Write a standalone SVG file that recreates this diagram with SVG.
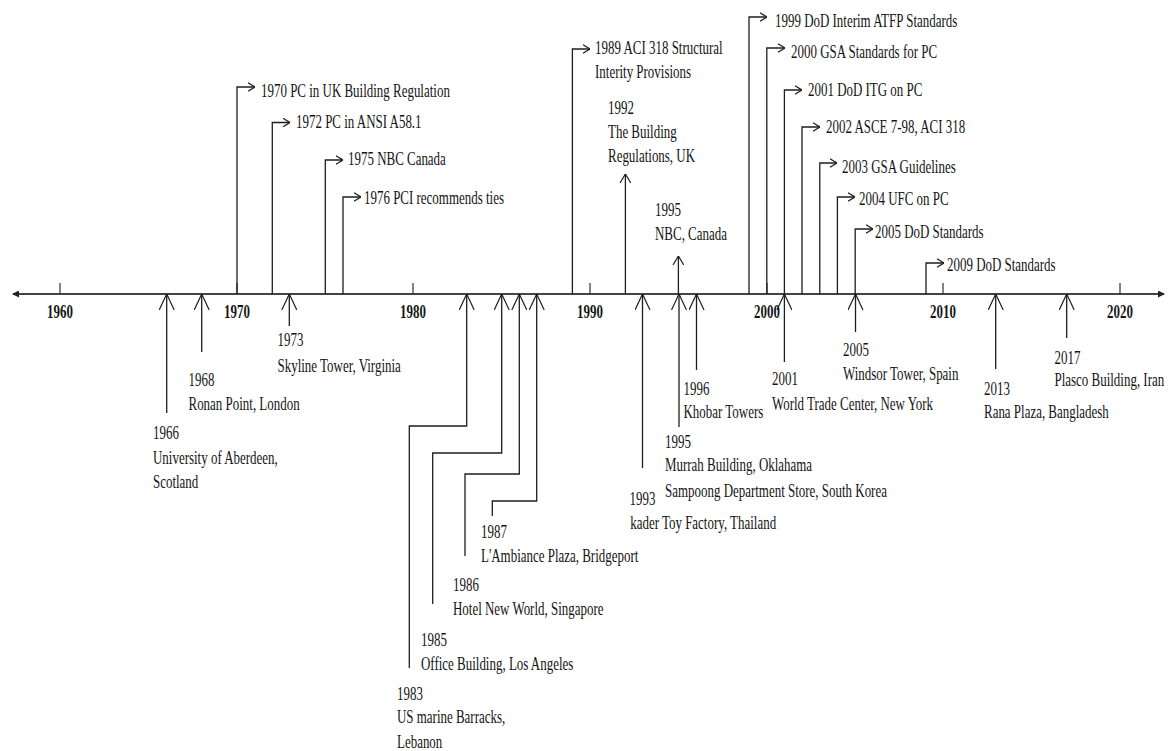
<svg xmlns="http://www.w3.org/2000/svg" width="1169" height="751" viewBox="0 0 1169 751">
<style>
text{font-family:"Liberation Serif","Times New Roman",serif;font-size:18px;fill:#141414}
.yr{font-weight:bold;text-anchor:middle}
.ln{fill:none;stroke:#1e1e1e;stroke-width:1.3}
.ax{fill:none;stroke:#444;stroke-width:2}
.tk{fill:none;stroke:#333;stroke-width:1.2}
.up{marker-end:url(#chev)}
.rt{marker-end:url(#openR)}
.sm{marker-end:url(#chevS)}
</style>
<defs>
<marker id="chev" viewBox="0 0 16 16" refX="16" refY="8" markerWidth="16" markerHeight="16" markerUnits="userSpaceOnUse" orient="auto"><path d="M0,0.5 L16,8 L0,15.5" fill="none" stroke="#1e1e1e" stroke-width="1.2"/></marker>
<marker id="chevS" viewBox="0 0 9 12" refX="9" refY="6" markerWidth="9" markerHeight="12" markerUnits="userSpaceOnUse" orient="auto"><path d="M0,0.6 L9,6 L0,11.4" fill="none" stroke="#1e1e1e" stroke-width="1.2"/></marker>
<marker id="openR" viewBox="0 0 7 10" refX="7" refY="5" markerWidth="7" markerHeight="10" markerUnits="userSpaceOnUse" orient="auto"><path d="M0,0.8 L7,5 L0,9.2" fill="none" stroke="#1e1e1e" stroke-width="1.2"/></marker>
<marker id="axh" viewBox="0 0 7 7" refX="6" refY="3.5" markerWidth="7" markerHeight="7" markerUnits="userSpaceOnUse" orient="auto-start-reverse"><path d="M0,0 L7,3.5 L0,7 z" fill="#222"/></marker>
</defs>
<rect width="1169" height="751" fill="#fff"/>
<g id="axis">
<path class="ax" d="M13,294 H1164" marker-start="url(#axh)" marker-end="url(#axh)"/>
<path class="tk" d="M60,283V294M237,283V294M413,283V294M590,283V294M767,283V294M943,283V294M1120,283V294"/>
<text class="yr" transform="matrix(.72 0 0 1 60 318)">1960</text>
<text class="yr" transform="matrix(.72 0 0 1 237 318)">1970</text>
<text class="yr" transform="matrix(.72 0 0 1 413 318)">1980</text>
<text class="yr" transform="matrix(.72 0 0 1 590 318)">1990</text>
<text class="yr" transform="matrix(.72 0 0 1 767 318)">2000</text>
<text class="yr" transform="matrix(.72 0 0 1 943 318)">2010</text>
<text class="yr" transform="matrix(.72 0 0 1 1120 318)">2020</text>
</g>
<g id="connectors">
<path class="ln rt" d="M237,294V87H255"/>
<path class="ln rt" d="M272.3,294V122.5H290"/>
<path class="ln rt" d="M325.3,294V160H343"/>
<path class="ln rt" d="M343,294V197H361"/>
<path class="ln rt" d="M572.4,294V49H590"/>
<path class="ln rt" d="M749,294V17H767"/>
<path class="ln rt" d="M766.8,294V48H785"/>
<path class="ln rt" d="M784.4,294V90H802"/>
<path class="ln rt" d="M802,294V127H820"/>
<path class="ln rt" d="M819.8,294V163H837"/>
<path class="ln rt" d="M837.4,294V197H855"/>
<path class="ln rt" d="M855.2,294V229H873"/>
<path class="ln rt" d="M926,294V263H944"/>
<path class="ln sm" d="M625.4,294V174"/>
<path class="ln sm" d="M678.4,294V256"/>
<path class="ln up" d="M166.7,413V294"/>
<path class="ln up" d="M201.7,352V294"/>
<path class="ln up" d="M289.3,326V294"/>
<path class="ln up" d="M409.3,668V426H466.7V294"/>
<path class="ln up" d="M432.7,604V453H501.7V294"/>
<path class="ln up" d="M465,556V474H519.3V294"/>
<path class="ln up" d="M492.3,516V501H536.7V294"/>
<path class="ln up" d="M642.5,468V294"/>
<path class="ln up" d="M679,427V294"/>
<path class="ln up" d="M696.5,370V294"/>
<path class="ln up" d="M784.4,362V294"/>
<path class="ln up" d="M855.5,332V294"/>
<path class="ln up" d="M995.7,369V294"/>
<path class="ln up" d="M1066.7,338V294"/>
</g>
<g id="n1970"><text transform="matrix(.72 0 0 1 261 97)">1970 PC in UK Building Regulation</text></g>
<g id="n1972"><text transform="matrix(.72 0 0 1 296 128)">1972 PC in ANSI A58.1</text></g>
<g id="n1975"><text transform="matrix(.72 0 0 1 348 165)">1975 NBC Canada</text></g>
<g id="n1976"><text transform="matrix(.72 0 0 1 364 204)">1976 PCI recommends ties</text></g>
<g id="n1989"><text transform="matrix(.72 0 0 1 595 54)"><tspan x="0" y="0">1989 ACI 318 Structural</tspan><tspan x="0" y="24">Interity Provisions</tspan></text></g>
<g id="n1992"><text transform="matrix(.72 0 0 1 608 113.5)"><tspan x="0" y="0">1992</tspan><tspan x="0" y="24.5">The Building</tspan><tspan x="0" y="49">Regulations, UK</tspan></text></g>
<g id="n1995t"><text transform="matrix(.72 0 0 1 655 216)"><tspan x="0" y="0">1995</tspan><tspan x="0" y="24">NBC, Canada</tspan></text></g>
<g id="n1999"><text transform="matrix(.72 0 0 1 775 27)">1999 DoD Interim ATFP Standards</text></g>
<g id="n2000"><text transform="matrix(.72 0 0 1 791 57.5)">2000 GSA Standards for PC</text></g>
<g id="n2001t"><text transform="matrix(.72 0 0 1 808 95.5)">2001 DoD ITG on PC</text></g>
<g id="n2002"><text transform="matrix(.72 0 0 1 826 133)">2002 ASCE 7-98, ACI 318</text></g>
<g id="n2003"><text transform="matrix(.72 0 0 1 842 172.5)">2003 GSA Guidelines</text></g>
<g id="n2004"><text transform="matrix(.72 0 0 1 859 204.5)">2004 UFC on PC</text></g>
<g id="n2005t"><text transform="matrix(.72 0 0 1 875 237.5)">2005 DoD Standards</text></g>
<g id="n2009"><text transform="matrix(.72 0 0 1 947 271)">2009 DoD Standards</text></g>
<g id="n1966"><text transform="matrix(.72 0 0 1 153 439)"><tspan x="0" y="0">1966</tspan><tspan x="0" y="25">University of Aberdeen,</tspan><tspan x="0" y="49">Scotland</tspan></text></g>
<g id="n1968"><text transform="matrix(.72 0 0 1 188.5 385.5)"><tspan x="0" y="0">1968</tspan><tspan x="0" y="24.5">Ronan Point, London</tspan></text></g>
<g id="n1973"><text transform="matrix(.72 0 0 1 277.5 346)"><tspan x="0" y="0">1973</tspan><tspan x="0" y="26">Skyline Tower, Virginia</tspan></text></g>
<g id="n1983"><text transform="matrix(.72 0 0 1 397 699.5)"><tspan x="0" y="0">1983</tspan><tspan x="0" y="23.5">US marine Barracks,</tspan><tspan x="0" y="48.5">Lebanon</tspan></text></g>
<g id="n1985"><text transform="matrix(.72 0 0 1 421 646)"><tspan x="0" y="0">1985</tspan><tspan x="0" y="24">Office Building, Los Angeles</tspan></text></g>
<g id="n1986"><text transform="matrix(.72 0 0 1 453 591)"><tspan x="0" y="0">1986</tspan><tspan x="0" y="24">Hotel New World, Singapore</tspan></text></g>
<g id="n1987"><text transform="matrix(.72 0 0 1 481 538)"><tspan x="0" y="0">1987</tspan><tspan x="0" y="24">L'Ambiance Plaza, Bridgeport</tspan></text></g>
<g id="n1993"><text transform="matrix(.72 0 0 1 629.5 504.5)"><tspan x="0" y="0">1993</tspan><tspan x="1" y="24.5">kader Toy Factory, Thailand</tspan></text></g>
<g id="n1995b"><text transform="matrix(.72 0 0 1 665 448)"><tspan x="0" y="0">1995</tspan><tspan x="0" y="23.5">Murrah Building, Oklahama</tspan><tspan x="0" y="49">Sampoong Department Store, South Korea</tspan></text></g>
<g id="n1996"><text transform="matrix(.72 0 0 1 683.5 394.5)"><tspan x="0" y="0">1996</tspan><tspan x="0" y="23.5">Khobar Towers</tspan></text></g>
<g id="n2001b"><text transform="matrix(.72 0 0 1 772 384.5)"><tspan x="0" y="0">2001</tspan><tspan x="0" y="25.5">World Trade Center, New York</tspan></text></g>
<g id="n2005b"><text transform="matrix(.72 0 0 1 843 356)"><tspan x="0" y="0">2005</tspan><tspan x="0" y="24">Windsor Tower, Spain</tspan></text></g>
<g id="n2013"><text transform="matrix(.72 0 0 1 984 394.5)"><tspan x="0" y="0">2013</tspan><tspan x="0" y="23.5">Rana Plaza, Bangladesh</tspan></text></g>
<g id="n2017"><text transform="matrix(.72 0 0 1 1054.5 363.5)"><tspan x="0" y="0">2017</tspan><tspan x="0" y="22.5">Plasco Building, Iran</tspan></text></g>
</svg>
